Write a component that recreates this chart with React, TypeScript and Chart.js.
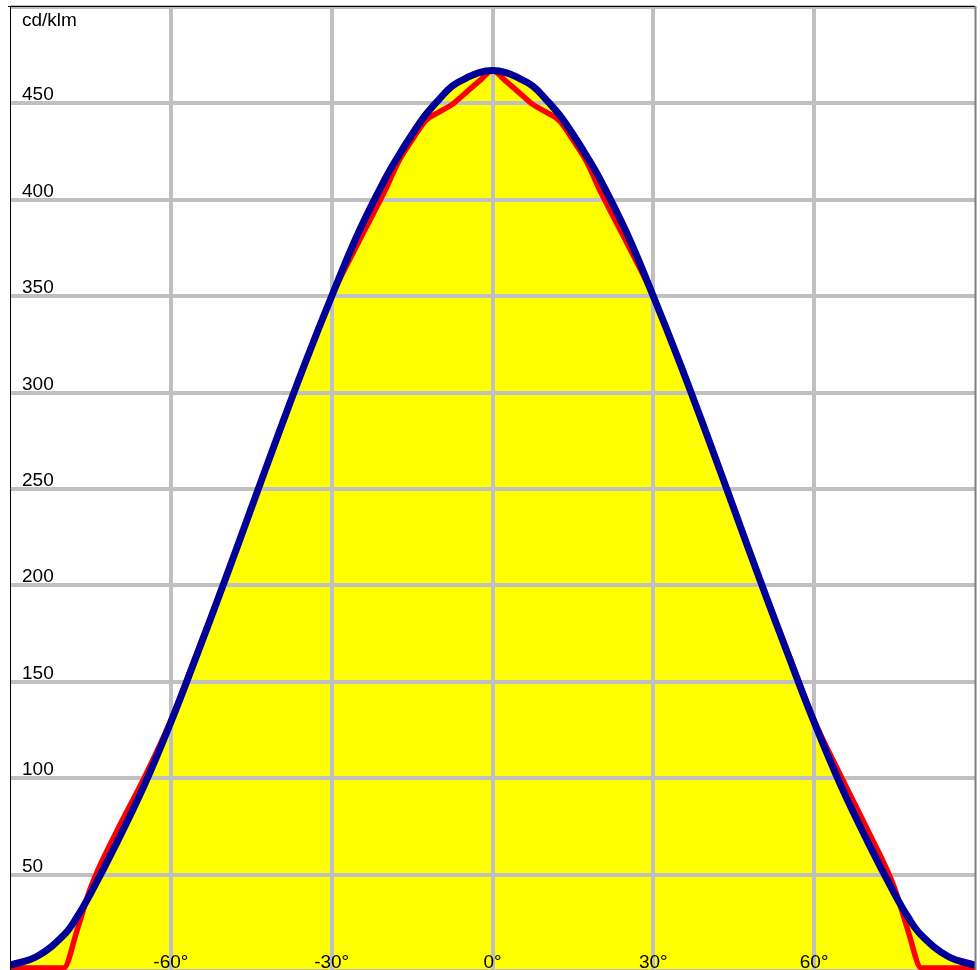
import { useEffect, useRef } from "react";
import { Chart, registerables } from "chart.js";

Chart.register(...registerables);

const angles = [
  -90, -85, -80, -77.5, -75, -70, -65, -60, -55, -50, -45, -40, -35, -30, -25, -20, -17.5, -15, -12.5, -10, -7.5, -5, -2.5,
  0,
  2.5, 5, 7.5, 10, 12.5, 15, 17.5, 20, 25, 30, 35, 40, 45, 50, 55, 60, 65, 70, 75, 77.5, 80, 85, 90,
];

const blueValues = [
  3, 7.5, 18.5, 28, 40, 67, 96, 129, 165, 202, 240, 278, 315, 350, 383, 411, 423, 434, 444, 452, 459, 463, 466,
  467,
  466, 463, 459, 452, 444, 434, 423, 411, 383, 350, 315, 278, 240, 202, 165, 129, 96, 67, 40, 28, 18.5, 7.5, 3,
];

const redValues = [
  1.5, 1.5, 1.5, 21, 43, 73, 100, 130, 166, 202, 240, 278, 315, 350, 378, 405, 420, 431, 441, 445.5, 449.5, 455.5, 461.5,
  467,
  461.5, 455.5, 449.5, 445.5, 441, 431, 420, 405, 378, 350, 315, 278, 240, 202, 166, 130, 101, 73, 43, 21, 1.5, 1.5, 1.5,
];

const yTickLabels = [50, 100, 150, 200, 250, 300, 350, 400, 450];
const xTickLabels = [-60, -30, 0, 30, 60];
const unitLabel = "cd/klm";

const FONT = '19px "Liberation Sans", Arial, sans-serif';

const labelsPlugin = {
  id: "insideLabels",
  afterDraw(chart: any) {
    const { ctx, chartArea } = chart;
    const xs = chart.scales.x;
    const ys = chart.scales.y;
    ctx.save();
    ctx.font = FONT;
    ctx.fillStyle = "#000";
    ctx.textAlign = "left";
    ctx.textBaseline = "alphabetic";
    for (const v of yTickLabels) {
      ctx.fillText(String(v), chartArea.left + 12, ys.getPixelForValue(v) - 3);
    }
    ctx.fillText(unitLabel, chartArea.left + 12, chartArea.top + 19);
    ctx.textAlign = "center";
    for (const d of xTickLabels) {
      ctx.fillText(d + "°", xs.getPixelForValue(d), chartArea.bottom - 3);
    }
    // frame
    ctx.strokeStyle = "#000";
    ctx.lineWidth = 1;
    ctx.beginPath();
    ctx.moveTo(chartArea.left + 0.5, chartArea.top - 1);
    ctx.lineTo(chartArea.left + 0.5, chartArea.bottom);
    ctx.moveTo(chartArea.left - 2, chartArea.top - 0.5);
    ctx.lineTo(chartArea.right + 1, chartArea.top - 0.5);
    ctx.stroke();
    ctx.strokeStyle = "#808080";
    ctx.lineWidth = 2;
    ctx.beginPath();
    ctx.moveTo(chartArea.right + 0.5, chartArea.top - 1);
    ctx.lineTo(chartArea.right + 0.5, chartArea.bottom);
    ctx.stroke();
    ctx.restore();
  },
};

export default function App() {
  const ref = useRef<HTMLCanvasElement | null>(null);
  useEffect(() => {
    if (!ref.current) return;
    const blueData = angles.map((a, i) => ({ x: a, y: blueValues[i] }));
    const redData = angles.map((a, i) => ({ x: a, y: redValues[i] }));
    const chart = new Chart(ref.current, {
      type: "line",
      data: {
        datasets: [
          {
            label: "C90-C270",
            data: blueData,
            borderColor: "#000099",
            borderWidth: 7,
            backgroundColor: "#ffff00",
            fill: "origin",
            pointRadius: 0,
            tension: 0.4,
          },
          {
            label: "C0-C180",
            data: redData,
            borderColor: "#ff0000",
            borderWidth: 5.5,
            fill: false,
            pointRadius: 0,
            cubicInterpolationMode: "monotone",
          },
        ],
      },
      options: {
        animation: false,
        responsive: false,
        devicePixelRatio: 1,
        layout: { padding: { left: 10, top: 7, right: 5, bottom: 9 } },
        plugins: {
          legend: { display: false },
          tooltip: { enabled: false },
          filler: { drawTime: "beforeDraw" },
        },
        scales: {
          x: {
            type: "linear",
            min: -90,
            max: 90,
            ticks: { display: false, stepSize: 30 },
            border: { display: false },
            grid: {
              drawTicks: false,
              lineWidth: 4,
              color: (c: any) =>
                c.tick && (c.tick.value === -90 || c.tick.value === 90) ? "rgba(0,0,0,0)" : "#c0c0c0",
            },
          },
          y: {
            type: "linear",
            min: 0,
            max: 500,
            ticks: { display: false, stepSize: 50 },
            border: { display: false },
            grid: { drawTicks: false, lineWidth: 4, color: "#c0c0c0" },
          },
        },
      },
      plugins: [labelsPlugin],
    });
    return () => chart.destroy();
  }, []);
  return (
    <div style={{ position: "absolute", left: 0, top: 0, width: 980, height: 970, overflow: "hidden", background: "#fff" }}>
      <canvas ref={ref} width={980} height={980} style={{ display: "block" }} />
    </div>
  );
}
